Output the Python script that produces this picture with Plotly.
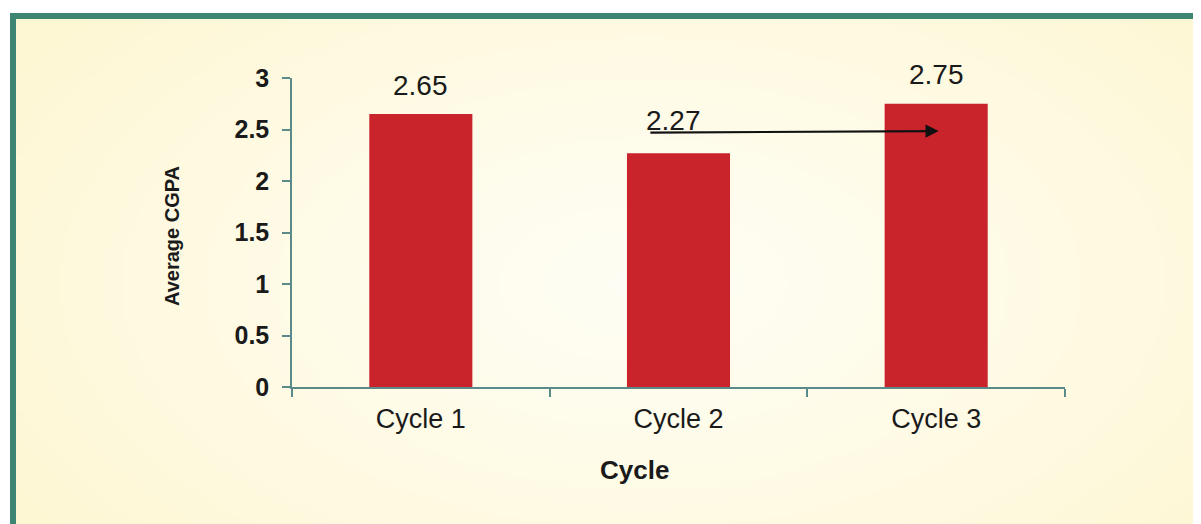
import zlib, struct, base64
import numpy as np
import plotly.graph_objects as go

categories = ["Cycle 1", "Cycle 2", "Cycle 3"]
avg_cgpa = [2.65, 2.27, 2.75]
label_texts = ["2.65", "2.27", "2.75"]
label_shift_px = [29, 33, 29]
label_dx = [0.0, -0.02, 0.0]
y_ticks = [0, 0.5, 1, 1.5, 2, 2.5, 3]
y_tick_labels = ["0", "0.5", "1", "1.5", "2", "2.5", "3"]

W, H = 1201, 524
OFF = 8  # page body margin


def fx(p):
    return (p - OFF) / W


def fy(p):
    return 1 - (p - OFF) / H


# ---- background gradient image (decoration) ----
gw, gh = 240, 105
yy, xx = np.mgrid[0:gh, 0:gw]
cx, cy = gw * 0.52, gh * 0.5
d = np.sqrt(((xx - cx) / (gw * 0.62)) ** 2 + ((yy - cy) / (gh * 0.8)) ** 2)
d = np.clip(d, 0, 1) ** 1.2
c_in = np.array([255, 254, 244], dtype=float)
c_out = np.array([254, 247, 212], dtype=float)
img = (c_in + (c_out - c_in) * d[..., None]).astype(np.uint8)


def png_bytes(arr):
    h, w, _ = arr.shape
    raw = b"".join(b"\x00" + arr[r].tobytes() for r in range(h))

    def chunk(tag, data):
        c = struct.pack(">I", len(data)) + tag + data
        return c + struct.pack(">I", zlib.crc32(tag + data) & 0xFFFFFFFF)

    return (b"\x89PNG\r\n\x1a\n" + chunk(b"IHDR", struct.pack(">IIBBBBB", w, h, 8, 2, 0, 0, 0))
            + chunk(b"IDAT", zlib.compress(raw, 9)) + chunk(b"IEND", b""))


bg_uri = "data:image/png;base64," + base64.b64encode(png_bytes(img)).decode()

FONT = "Liberation Sans, Arial, sans-serif"
AXIS_COLOR = "#5B8A8B"
TXT = "#1a1a1a"

fig = go.Figure()
fig.add_trace(go.Bar(
    x=categories, y=avg_cgpa, width=0.4,
    marker=dict(color="#C9232C", line=dict(width=0)),
    showlegend=False, hoverinfo="x+y",
))

annotations = []
for i, (v, t) in enumerate(zip(avg_cgpa, label_texts)):
    annotations.append(dict(
        x=i + label_dx[i], y=v, xref="x", yref="y", text=t, showarrow=False,
        xanchor="center", yanchor="middle",
        yshift=label_shift_px[i], font=dict(family=FONT, size=28, color=TXT),
    ))

# arrow from Cycle 2 label toward Cycle 3
annotations.append(dict(
    x=2.01, y=2.485, xref="x", yref="y",
    ax=0.885, ay=2.47, axref="x", ayref="y",
    text="", showarrow=True, arrowhead=2, arrowsize=1.2, arrowwidth=2.2,
    arrowcolor="#111111",
))

# axis titles
annotations.append(dict(
    x=fx(172), y=fy(236), xref="paper", yref="paper", text="<b>Average CGPA</b>",
    xanchor="center", yanchor="middle",
    textangle=-90, showarrow=False, font=dict(family=FONT, size=20, color=TXT),
))
annotations.append(dict(
    x=fx(634), y=fy(470), xref="paper", yref="paper", text="<b>Cycle</b>",
    xanchor="center", yanchor="middle",
    showarrow=False, font=dict(family=FONT, size=26, color=TXT),
))

fig.update_layout(
    template="none",
    width=W, height=H, autosize=False,
    margin=dict(l=0, r=0, t=0, b=0, pad=0, autoexpand=False),
    paper_bgcolor="white",
    plot_bgcolor="rgba(0,0,0,0)",
    images=[dict(source=bg_uri, xref="paper", yref="paper", x=fx(16), y=fy(19),
                 sizex=1.0, sizey=1.0, sizing="stretch",
                 xanchor="left", yanchor="top", layer="below")],
    shapes=[dict(type="rect", xref="paper", yref="paper",
                 x0=fx(13), x1=1.1, y0=-0.1, y1=fy(16),
                 line=dict(color="#3E8574", width=6), fillcolor="rgba(0,0,0,0)",
                 layer="above")],
    annotations=annotations,
    xaxis=dict(
        domain=[fx(292), fx(1065)], range=[-0.5, 2.5], type="category", automargin=False,
        showline=True, linecolor=AXIS_COLOR, linewidth=1.5,
        ticks="outside", tickson="boundaries", ticklen=8, tickcolor=AXIS_COLOR, tickwidth=1.5,
        showgrid=False, zeroline=False, ticklabelstandoff=7,
        tickfont=dict(family=FONT, size=27, color=TXT),
    ),
    yaxis=dict(
        domain=[fy(387), fy(78)], range=[0, 3], automargin=False,
        tickvals=y_ticks, ticktext=y_tick_labels,
        showline=True, linecolor=AXIS_COLOR, linewidth=1.5,
        ticks="outside", ticklen=8, tickcolor=AXIS_COLOR, tickwidth=1.5,
        showgrid=False, zeroline=False, ticklabelstandoff=8,
        tickfont=dict(family=FONT, size=25, color=TXT, weight="bold"),
    ),
)

fig.write_html("out.html")
